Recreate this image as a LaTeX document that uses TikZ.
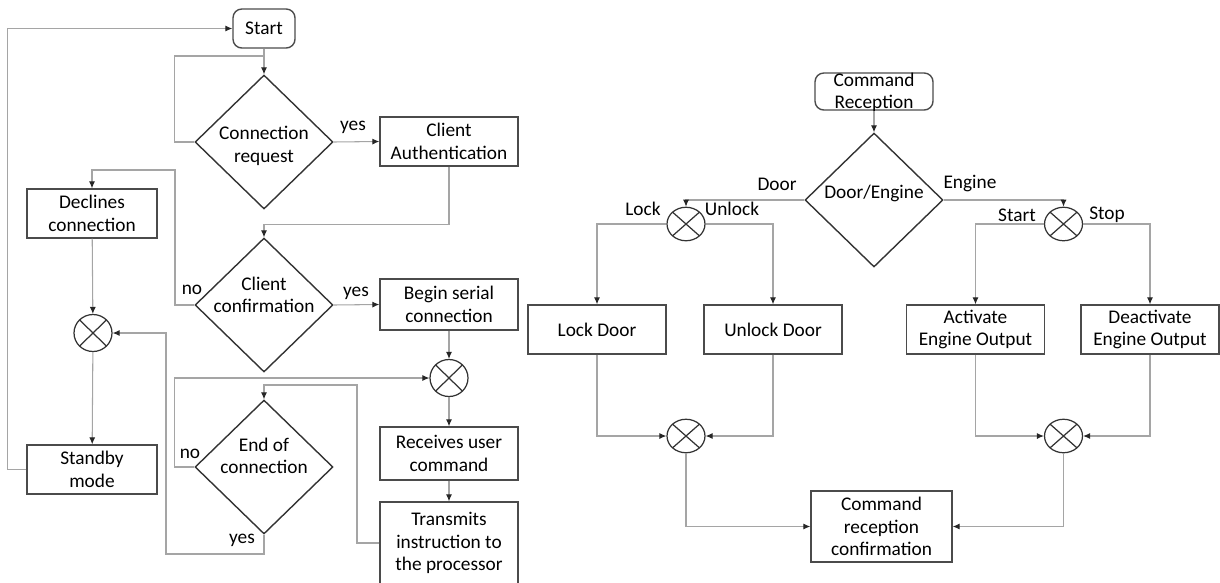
\documentclass[tikz,border=0pt]{standalone}
\usepackage{fontspec}
\setmainfont{Carlito}
\usetikzlibrary{shapes.geometric,arrows.meta}
\definecolor{linegray}{RGB}{165,165,165}
\definecolor{edgegray}{RGB}{75,75,75}
\tikzset{
  box/.style={draw=edgegray, line width=0.8pt, minimum width=2.76cm, minimum height=0.98cm, inner sep=1pt, align=center},
  terminal/.style={box, rounded corners=5pt},
  decision/.style={draw=black!80, line width=0.8pt, diamond, minimum width=2.76cm, minimum height=2.68cm, inner sep=0pt},
  junc/.style={draw=black!80, line width=0.7pt, ellipse, inner sep=0pt, minimum width=0.76cm, minimum height=0.74cm,
    path picture={\draw[black!80, line width=0.7pt] (path picture bounding box.north west) -- (path picture bounding box.south east)
      (path picture bounding box.south west) -- (path picture bounding box.north east);}},
  flat/.style={minimum width=0.76cm, minimum height=0.67cm},
  conn/.style={draw=linegray, line width=0.6pt},
  arr/.style={conn, -{Latex[length=4pt,width=3.5pt,color=black!85]}},
  tag/.style={inner sep=0pt}
}
\begin{document}
\begin{tikzpicture}[x=0.02cm, y=-0.02cm, font=\fontsize{11}{12.8}\selectfont]
\useasboundingbox (0,0) rectangle (1220,582);
% connection handling
\node[terminal, minimum width=1.24cm, minimum height=0.78cm] (start) at (264,28.5) {Start};
\node[decision, label={[align=center, yshift=-0.08cm]center:Connection\\request}] (connreq) at (264,142) {};
\node[box] (clientauth) at (449,141.5) {Client\\Authentication};
\node[decision, label={[align=center, yshift=0.2cm]center:Client\\confirmation}] (clientconf) at (264,305) {};
\node[box, minimum width=2.6cm] (declines) at (92,213.5) {Declines\\connection};
\node[junc] (mergeL) at (93,333) {};
\node[box, minimum width=2.6cm] (standby) at (92,469.5) {Standby\\mode};
\node[box, minimum height=1.02cm] (beginserial) at (449,304.5) {Begin serial\\connection};
\node[junc] (mergeM) at (449,378) {};
\node[box, minimum height=1.06cm] (receives) at (449,453.5) {Receives user\\command};
\node[box, minimum height=1.64cm] (transmits) at (449,543) {Transmits\\instruction to\\the processor};
\node[decision, label={[align=center, yshift=0.22cm]center:End of\\connection}] (endconn) at (264,467) {};
\coordinate (looptop) at (264,56);
\coordinate (noturn) at (175,170);
\coordinate (yesturn) at (166,554);
\coordinate (backturn) at (357,385);
\node[tag] (yesauth) at (353,127) {yes};
\node[tag] (yesserial) at (356,293) {yes};
\node[tag] (noconf) at (192,290) {no};
\node[tag] (noend) at (190,454) {no};
\node[tag] (yesend) at (242,540) {yes};
\draw[arr] (start) -- (connreq);
\draw[conn] (connreq.west) -- ++(-20,0) |- (looptop);
\draw[arr] (connreq.east) -- (clientauth.west);
\draw[arr] (clientauth.south) -- ++(0,58) -| (clientconf.north);
\draw[arr] (clientconf.west) -| (noturn) -| (declines.north);
\draw[arr] (clientconf.east) -- (beginserial.west);
\draw[arr] (declines) -- (mergeL);
\draw[arr] (mergeL) -- (standby);
\draw[arr] (standby.west) -- ++(-19,0) |- (start.west);
\draw[arr] (beginserial) -- (mergeM);
\draw[arr] (mergeM) -- (receives);
\draw[arr] (receives) -- (transmits);
\draw[arr] (transmits.west) -| (backturn) -| (endconn.north);
\draw[arr] (endconn.west) -- ++(-20,0) |- (mergeM.west);
\draw[arr] (endconn.south) |- (yesturn) |- (mergeL.east);
% command handling
\node[terminal, minimum width=2.36cm, minimum height=0.74cm, label={[align=center, yshift=-0.02cm]center:Command\\Reception}] (cmdrec) at (874,91.5) {};
\node[decision, label={[yshift=0.14cm]center:Door/Engine}] (doorengine) at (874,200) {};
\node[junc, flat] (splitdoor) at (686,224) {};
\node[junc, flat] (splitengine) at (1063.5,224) {};
\node[box] (lockdoor) at (597,329.5) {Lock Door};
\node[box] (unlockdoor) at (773,329.5) {Unlock Door};
\node[box] (activate) at (975.5,329.5) {Activate\\Engine Output};
\node[box] (deactivate) at (1150,329.5) {Deactivate\\Engine Output};
\node[junc, flat] (mergedoor) at (686,436) {};
\node[junc, flat] (mergeengine) at (1063.5,436) {};
\node[box, minimum width=2.82cm, minimum height=1.42cm] (confirm) at (881.5,526.5) {Command\\reception\\confirmation};
\node[tag] (doortag) at (777,184) {Door};
\node[tag] (enginetag) at (970,184) {Engine};
\node[tag] (locktag) at (643,209) {Lock};
\node[tag] (unlocktag) at (732,209) {Unlock};
\node[tag] (starttag) at (1017,215) {Start};
\node[tag] (stoptag) at (1107,215) {Stop};
\draw[arr] (cmdrec) -- (doorengine);
\draw[arr] (doorengine.west) -| (splitdoor.north);
\draw[arr] (doorengine.east) -| (splitengine.north);
\draw[arr] (splitdoor.west) -| (lockdoor.north);
\draw[arr] (splitdoor.east) -| (unlockdoor.north);
\draw[arr] (splitengine.west) -| (activate.north);
\draw[arr] (splitengine.east) -| (deactivate.north);
\draw[arr] (lockdoor.south) |- (mergedoor.west);
\draw[arr] (unlockdoor.south) |- (mergedoor.east);
\draw[arr] (activate.south) |- (mergeengine.west);
\draw[arr] (deactivate.south) |- (mergeengine.east);
\draw[arr] (mergedoor.south) |- (confirm.west);
\draw[arr] (mergeengine.south) |- (confirm.east);
\end{tikzpicture}
\end{document}
